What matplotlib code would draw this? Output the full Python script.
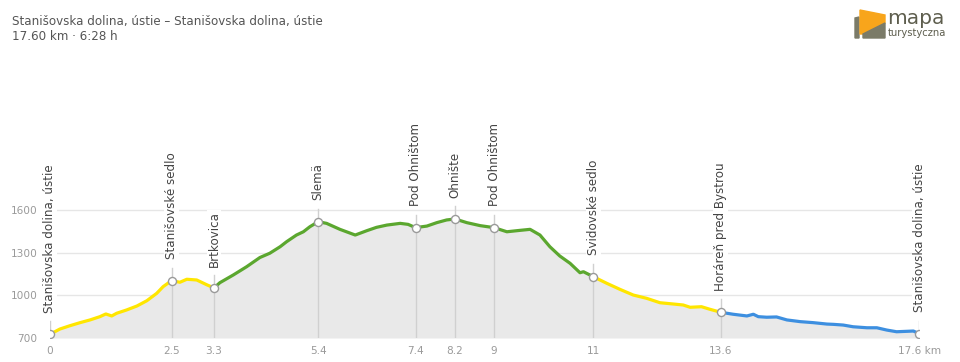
"""Elevation profile: Stanišovska dolina loop (mapa turystyczna style)."""

import matplotlib

matplotlib.use("Agg")
import matplotlib.pyplot as plt
import numpy as np
from matplotlib.patches import Polygon

# profile (km, m a.s.l.)
dist_km = [
    0.00, 0.20, 0.40, 0.61, 0.81, 1.01, 1.13, 1.25, 1.35, 1.55, 1.76, 1.96,
    2.16, 2.29, 2.46, 2.63, 2.77, 2.97, 3.17, 3.32,
    3.44, 3.71, 3.98, 4.25, 4.45, 4.66, 4.79, 4.99, 5.13, 5.26, 5.43, 5.60,
    5.87, 6.18, 6.41, 6.61, 6.82, 7.09, 7.25, 7.40, 7.63, 7.83, 8.03, 8.20,
    8.44, 8.71, 8.99, 9.25, 9.52, 9.72, 9.92, 10.12, 10.32, 10.53, 10.73,
    10.80, 11.00,
    11.27, 11.54, 11.81, 12.08, 12.35, 12.62, 12.82, 12.96, 13.19, 13.36, 13.58,
    13.83, 14.11, 14.24, 14.34, 14.51, 14.71, 14.92, 15.19, 15.45, 15.73,
    15.86, 16.06, 16.26, 16.54, 16.74, 16.94, 17.14, 17.35, 17.48, 17.60,
]
elev_m = [
    726, 763, 786, 808, 827, 850, 869, 855, 874, 897, 925, 962,
    1014, 1061, 1103, 1092, 1113, 1108, 1075, 1052,
    1089, 1143, 1201, 1266, 1296, 1342, 1377, 1424, 1447, 1482, 1518, 1506,
    1464, 1424, 1454, 1478, 1494, 1506, 1499, 1476, 1487, 1511, 1530, 1537,
    1511, 1490, 1476, 1447, 1457, 1464, 1424, 1342, 1277, 1225, 1159,
    1166, 1131,
    1085, 1042, 1002, 979, 948, 939, 932, 916, 920, 902, 881,
    867, 855, 867, 850, 846, 848, 827, 815, 808, 798,
    796, 791, 779, 772, 772, 756, 744, 747, 749, 730,
]

# trail colour sections
seg_start = [0.00, 3.32, 11.00, 13.58]
seg_end = [3.32, 11.00, 13.58, 17.60]
seg_color = ["#ffe600", "#5ba72f", "#ffe600", "#3d8fe0"]

# waypoints
wp_km = [0.00, 2.46, 3.32, 5.43, 7.40, 8.20, 8.99, 11.00, 13.58, 17.60]
wp_tick = ["0", "2.5", "3.3", "5.4", "7.4", "8.2", "9", "11", "13.6", "17.6 km"]
wp_name = [
    "Stanišovska dolina, ústie", "Stanišovské sedlo", "Brtkovica", "Slemä",
    "Pod Ohništom", "Ohnište", "Pod Ohništom", "Svidovské sedlo",
    "Horáreň pred Bystrou", "Stanišovska dolina, ústie",
]

y_ticks = [700, 1000, 1300, 1600]

W, H = 960, 362
fig = plt.figure(figsize=(W / 100, H / 100), dpi=100)
ax = fig.add_axes([50 / W, (H - 338) / H, (919.3 - 50) / W, 278 / H])
ax.set_xlim(0, 17.6)
ax.set_ylim(700, 700 + 278 / 0.14222)
for s in ax.spines.values():
    s.set_visible(False)

x = np.array(dist_km)
y = np.array(elev_m)
ax.fill_between(x, 700, y, color="#e9e9e9", lw=0, zorder=1)
ax.set_yticks(y_ticks)
ax.yaxis.grid(True, color="#e6e6e6", lw=1)
ax.set_axisbelow(True)
ax.tick_params(length=0, labelsize=7.6, labelcolor="#9a9a9a")
ax.tick_params(axis="y", pad=9)
ax.tick_params(axis="x", pad=6)
ax.set_xticks(wp_km)
ax.set_xticklabels(wp_tick)

for a, b, c in zip(seg_start, seg_end, seg_color):
    m = (x >= a - 1e-9) & (x <= b + 1e-9)
    ax.plot(x[m], y[m], color=c, lw=2.3, solid_capstyle="round", zorder=3)

for km, name in zip(wp_km, wp_name):
    e = np.interp(km, x, y)
    ax.plot([km, km], [700, e + 92], color="#d0d0d0", lw=1, zorder=2)
    ax.plot(km, e, "o", ms=5.8, mfc="white", mec="#9a9a9a", mew=1, zorder=4)
    ax.text(km, e + 150, name, rotation=90, ha="center", va="bottom",
            fontsize=8.6, color="#444444", zorder=5, clip_on=False,
            bbox=dict(facecolor="white", edgecolor="none", pad=0.6))

fig.text(12 / W, 1 - 25 / H, "Stanišovska dolina, ústie – Stanišovska dolina, ústie",
         fontsize=8.6, color="#555555", va="baseline")
fig.text(12 / W, 1 - 40 / H, "17.60 km · 6:28 h",
         fontsize=8.6, color="#555555", va="baseline")

# logo
lax = fig.add_axes([0, 0, 1, 1], facecolor="none")
lax.set_xlim(0, W)
lax.set_ylim(H, 0)
lax.axis("off")
lax.add_patch(Polygon([[855, 18], [859, 17], [859, 38], [855, 38]], color="#7b7b68"))
lax.add_patch(Polygon([[860, 10], [885, 15], [885, 23], [863, 34], [860, 34]],
                      color="#f8a51b"))
lax.add_patch(Polygon([[863, 34], [885, 23], [885, 38], [863, 38]], color="#7b7b68"))
lax.text(887, 24, "mapa", fontsize=14.5, color="#5e5e4e", va="baseline", ha="left")
lax.text(888, 35.5, "turystyczna", fontsize=7.2, color="#5e5e4e", va="baseline",
         ha="left")

fig.savefig("out.png", dpi=100)
